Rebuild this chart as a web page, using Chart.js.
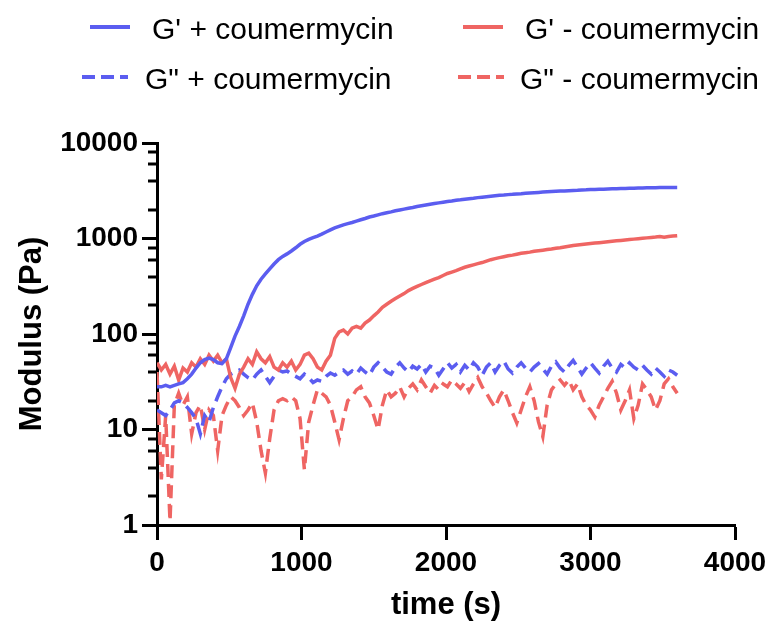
<!DOCTYPE html>
<html>
<head>
<meta charset="utf-8">
<script src="https://cdn.jsdelivr.net/npm/chart.js@4/dist/chart.umd.min.js"></script>
<style>
body{margin:0;background:#fff;}
#wrap{position:relative;width:774px;height:624px;}
#chart{position:absolute;left:0;top:0;}
.lg{position:absolute;font-family:"Liberation Sans",Arial,sans-serif;font-size:30px;line-height:30px;color:#000;white-space:nowrap;}
.sym{position:absolute;}
</style>
</head>
<body>
<div id="wrap">
<canvas id="chart" width="774" height="624"></canvas>
<svg class="sym" style="left:88px;top:20px" width="44" height="14"><line x1="2" y1="7" x2="42" y2="7" stroke="#5b5df0" stroke-width="4"/></svg>
<div class="lg" style="left:152px;top:14px">G' + coumermycin</div>
<svg class="sym" style="left:461px;top:20px" width="44" height="14"><line x1="2" y1="7" x2="42" y2="7" stroke="#ef6563" stroke-width="4"/></svg>
<div class="lg" style="left:525px;top:14px">G' - coumermycin</div>
<svg class="sym" style="left:80px;top:70px" width="50" height="14"><line x1="2" y1="7" x2="48" y2="7" stroke="#5b5df0" stroke-width="4" stroke-dasharray="13 6"/></svg>
<div class="lg" style="left:145px;top:64px">G" + coumermycin</div>
<svg class="sym" style="left:456px;top:70px" width="50" height="14"><line x1="2" y1="7" x2="48" y2="7" stroke="#ef6563" stroke-width="4" stroke-dasharray="13 6"/></svg>
<div class="lg" style="left:520px;top:64px">G" - coumermycin</div>
</div>
<script>
// time in seconds
const times = [
0,30,60,90,120,150,180,210,240,270,
300,330,360,390,420,450,480,510,540,570,
600,630,660,690,720,750,780,810,840,870,
900,930,960,990,1020,1050,1080,1110,1140,1170,
1200,1230,1260,1290,1320,1350,1380,1410,1440,1470,
1500,1530,1560,1590,1620,1650,1680,1710,1740,1770,
1800,1830,1860,1890,1920,1950,1980,2010,2040,2070,
2100,2130,2160,2190,2220,2250,2280,2310,2340,2370,
2400,2430,2460,2490,2520,2550,2580,2610,2640,2670,
2700,2730,2760,2790,2820,2850,2880,2910,2940,2970,
3000,3030,3060,3090,3120,3150,3180,3210,3240,3270,
3300,3330,3360,3390,3420,3450,3480,3510,3540,3570,
3600];

// G' + coumermycin
const gPrimePlus = [
28,28,29,28,29,30,31,34,38,44,
50,54,56,54,50,49,55,72,95,120,
155,205,260,320,375,425,480,540,600,650,
690,740,800,870,930,980,1020,1060,1110,1170,
1230,1290,1340,1390,1430,1470,1520,1570,1620,1680,
1720,1770,1820,1860,1900,1950,1990,2030,2070,2110,
2160,2200,2240,2280,2320,2360,2400,2440,2470,2510,
2540,2580,2610,2640,2680,2710,2740,2770,2800,2830,
2850,2880,2900,2930,2950,2980,3000,3020,3040,3060,
3080,3100,3120,3140,3150,3170,3190,3200,3220,3230,
3250,3260,3270,3280,3300,3310,3320,3330,3340,3350,
3360,3370,3380,3390,3400,3400,3410,3420,3420,3430,
3430];

// G' - coumermycin
const gPrimeMinus = [
50,42,48,38,46,33,44,40,50,45,
55,48,60,52,60,50,55,35,27,38,
45,55,48,65,55,50,58,45,42,50,
45,52,42,48,60,63,55,45,42,52,
60,90,105,110,100,115,120,115,130,140,
155,170,190,205,220,235,250,265,285,300,
315,330,345,360,375,390,410,430,445,460,
480,500,515,530,545,560,580,600,615,630,
645,660,670,685,700,710,720,735,745,755,
765,775,790,800,815,830,845,855,865,875,
885,895,905,915,925,935,945,955,965,975,
985,995,1005,1015,1025,1035,1050,1030,1050,1060,
1070];

// G" + coumermycin
const gDoublePlus = [
16,15,14,16,19,20,19,17,15,13,
9,14,12,17,22,28,34,38,40,42,
38,35,33,38,42,36,31,36,42,40,
41,38,36,34,38,35,31,33,32,36,
39,37,40,42,38,41,38,44,40,37,
45,50,45,40,38,45,50,44,40,46,
43,48,40,46,44,37,43,50,44,48,
40,47,42,50,45,37,45,50,40,47,
52,43,39,45,50,44,40,45,49,43,
38,46,51,44,40,47,53,45,38,44,
50,44,39,46,52,44,40,48,44,50,
45,42,47,42,38,44,40,36,42,40,
37];

// G" - coumermycin
const gDoubleMinus = [
40,3,14,1.1,18,24,18,22,9,15,
18,10,16,14,6,14,18,22,20,17,
14,16,19,12,6,3.5,8,16,20,21,
20,22,20,13,3.8,12,18,26,24,22,
18,12,7.8,13,20,22,26,28,22,19,
14,10,18,26,22,24,28,22,27,30,
26,33,28,24,29,26,30,28,33,30,
27,31,25,30,35,28,24,20,17,22,
26,20,15,11.7,16,22,28,20,12,8.4,
18,26,30,33,29,33,26,30,22,18,
16,13.5,18,22,27,32,24,16,20,26,
13,18,30,26,22,16,20,30,34,28,
24];

const yTicks = [1,2,4,6,8,10,20,40,60,80,100,200,400,600,800,1000,2000,4000,6000,8000,10000];
const xTicks = [0,1000,2000,3000,4000];

const blue = "#5b5df0";
const red = "#ef6563";

function pts(vals){
  return times.map((t,i)=>({x:t,y:vals[i]}));
}
function isMajor(v){
  return [1,10,100,1000,10000].includes(v);
}

// short minor ticks on the y axis
const minorTicks = {
  id:"minorTicks",
  afterDraw(chart){
    const y = chart.scales.y;
    const ctx = chart.ctx;
    ctx.save();
    ctx.strokeStyle = "#000";
    ctx.lineWidth = 3;
    yTicks.filter(v=>!isMajor(v)).forEach(v=>{
      const py = Math.round(y.getPixelForValue(v));
      ctx.beginPath();
      ctx.moveTo(y.right - 9, py);
      ctx.lineTo(y.right, py);
      ctx.stroke();
    });
    ctx.restore();
  }
};

const tickFont = {family:"'Liberation Sans', Arial, sans-serif", size:28, weight:"bold"};
const titleFont = {family:"'Liberation Sans', Arial, sans-serif", size:31, weight:"bold"};

new Chart(document.getElementById("chart"),{
  type:"line",
  data:{
    datasets:[
      {label:"G' + coumermycin", data:pts(gPrimePlus), borderColor:blue, borderWidth:3.5},
      {label:"G' - coumermycin", data:pts(gPrimeMinus), borderColor:red, borderWidth:3.5},
      {label:'G" + coumermycin', data:pts(gDoublePlus), borderColor:blue, borderWidth:3.5, borderDash:[13,7]},
      {label:'G" - coumermycin', data:pts(gDoubleMinus), borderColor:red, borderWidth:3.5, borderDash:[13,7]}
    ]
  },
  options:{
    responsive:false,
    animation:false,
    layout:{padding:{left:0, right:39, top:143, bottom:0}},
    elements:{point:{radius:0}, line:{tension:0}},
    plugins:{legend:{display:false}, tooltip:{enabled:false}},
    scales:{
      x:{
        type:"linear", min:0, max:4000,
        afterBuildTicks(s){ s.ticks = xTicks.map(v=>({value:v})); },
        afterFit(s){ s.height = 99; },
        border:{display:true, color:"#000", width:3},
        grid:{drawOnChartArea:false, drawTicks:true, tickLength:15, tickWidth:3, tickColor:"#000"},
        ticks:{color:"#000", font:tickFont, padding:6, maxRotation:0, callback:v=>String(v)},
        title:{display:true, text:"time (s)", color:"#000", font:titleFont, padding:{top:0,bottom:0}}
      },
      y:{
        type:"logarithmic", min:1, max:10000,
        afterBuildTicks(s){ s.ticks = yTicks.map(v=>({value:v, major:isMajor(v)})); },
        afterFit(s){ s.width = 157; },
        border:{display:true, color:"#000", width:3},
        grid:{drawOnChartArea:false, drawTicks:true, tickLength:15, tickWidth:3,
          tickColor:c=>(c.tick && isMajor(c.tick.value)) ? "#000" : "rgba(0,0,0,0)"},
        ticks:{color:"#000", font:tickFont, padding:4,
          callback:v=>isMajor(v) ? String(v) : ""},
        title:{display:true, text:"Modulus (Pa)", color:"#000", font:titleFont, padding:{top:14,bottom:0}}
      }
    }
  },
  plugins:[minorTicks]
});
</script>
</body>
</html>
